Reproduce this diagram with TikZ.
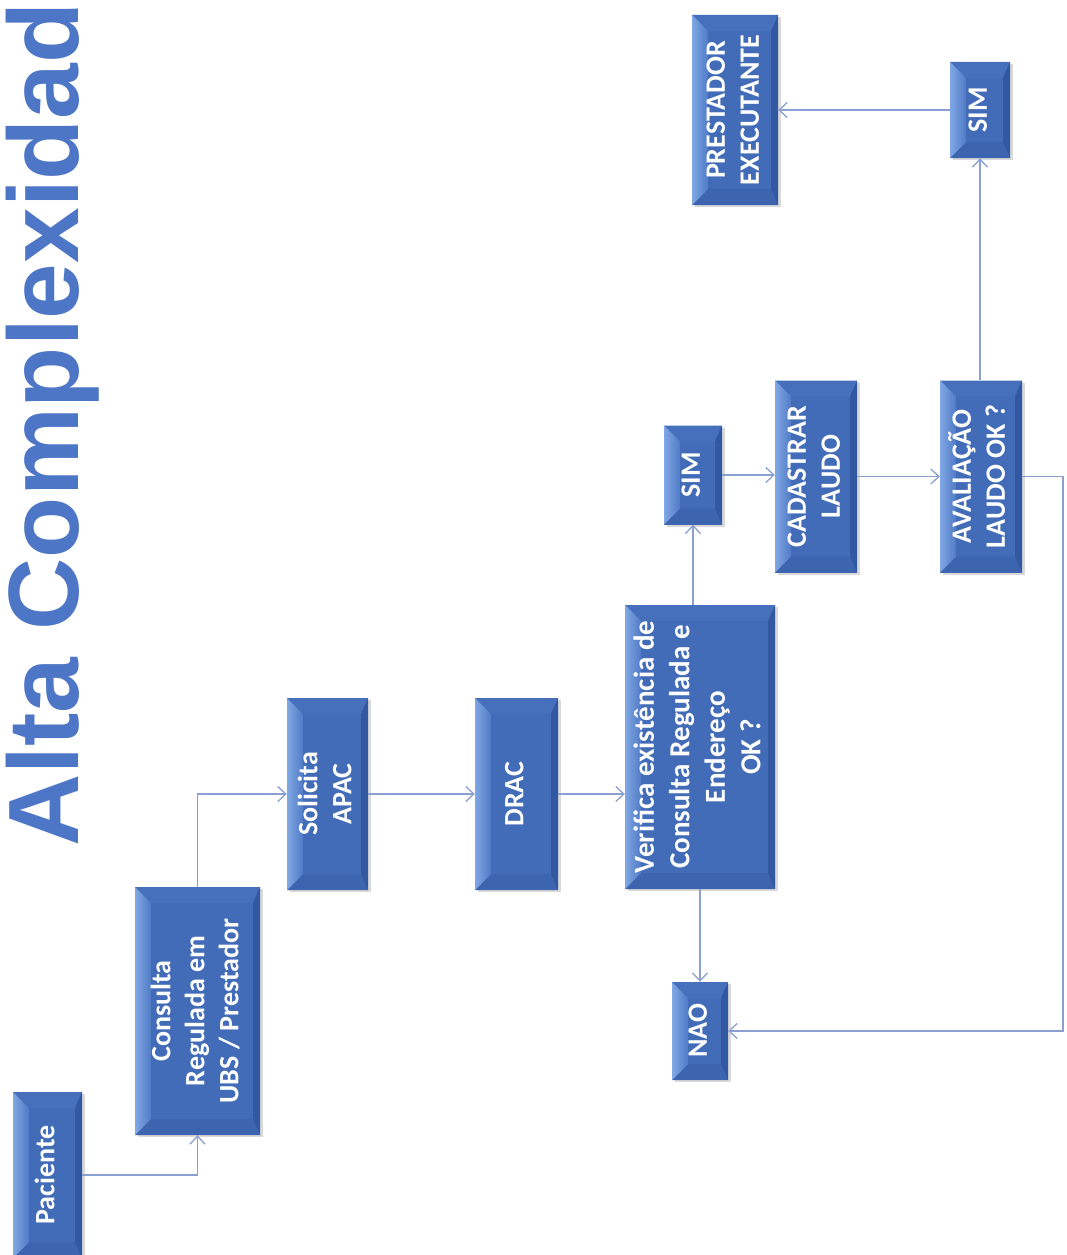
\documentclass[tikz,border=0pt]{standalone}
\usepackage{fontspec}
\usepackage{graphicx}
\setmainfont{Carlito}
\newfontfamily\titlefont{Liberation Sans}
\usetikzlibrary{arrows.meta,calc,shadows}

\definecolor{boxbody}{RGB}{66,108,184}
\definecolor{bvlight}{RGB}{128,168,228}
\definecolor{bvlightb}{RGB}{80,122,198}
\definecolor{bvtop}{RGB}{70,112,188}
\definecolor{bvbot}{RGB}{60,100,175}
\definecolor{bvright}{RGB}{50,88,162}
\definecolor{connc}{RGB}{138,160,210}
\definecolor{titleblue}{RGB}{78,118,198}

\newlength\bvl
\setlength\bvl{16pt}
\newlength\bvr
\setlength\bvr{7pt}
\newcommand\bevfaces{%
  \fill[bvtop]
    (path picture bounding box.north west) -- (path picture bounding box.north east)
    -- ([xshift=-\bvr,yshift=-\bvl]path picture bounding box.north east)
    -- ([xshift=\bvl,yshift=-\bvl]path picture bounding box.north west) -- cycle;
  \fill[bvbot]
    (path picture bounding box.south west) -- (path picture bounding box.south east)
    -- ([xshift=-\bvr,yshift=\bvl]path picture bounding box.south east)
    -- ([xshift=\bvl,yshift=\bvl]path picture bounding box.south west) -- cycle;
  \fill[bvright]
    (path picture bounding box.north east) -- (path picture bounding box.south east)
    -- ([xshift=-\bvr,yshift=\bvl]path picture bounding box.south east)
    -- ([xshift=-\bvr,yshift=-\bvl]path picture bounding box.north east) -- cycle;
  \shade[left color=bvlight, right color=bvlightb]
    (path picture bounding box.north west) -- (path picture bounding box.south west)
    -- ([xshift=\bvl,yshift=\bvl]path picture bounding box.south west)
    -- ([xshift=\bvl,yshift=-\bvl]path picture bounding box.north west) -- cycle;
}

\tikzset{
  bevbox/.style={fill=boxbody, inner sep=0pt, text=white,
    font={\bfseries\fontsize{28}{34}\selectfont},
    path picture={\bevfaces},
    drop shadow={opacity=0.15, shadow xshift=3pt, shadow yshift=-2pt, fill=black}},
  conn/.style={draw=connc, line width=1.3pt,
    -{Straight Barb[length=8pt,width=15pt]}},
}

\newcommand\rtext[1]{\rotatebox{90}{\begin{tabular}{@{}c@{}}#1\end{tabular}}}

\begin{document}
\begin{tikzpicture}[x=1pt,y=-1pt]
\path[use as bounding box] (0,0) rectangle (1066,1255);
\fill[white] (0,0) rectangle (1066,1255);
\clip (0,0) rectangle (1066,1255);

% title
\node[rotate=90, anchor=base west, inner sep=0pt, text=titleblue,
  font={\titlefont\bfseries\fontsize{100}{110}\selectfont}] (title) at (78,847) {Alta Complexidad};

% boxes
\node[bevbox, minimum width=69pt,  minimum height=166pt] (pac)   at (47.5,1175)  {\rtext{Paciente}};
\node[bevbox, minimum width=125pt, minimum height=248pt] (cons)  at (197.5,1011) {\rtext{Consulta\\Regulada em\\UBS / Prestador}};
\node[bevbox, minimum width=81pt,  minimum height=192pt] (sol)   at (327.5,794)  {\rtext{Solicita\\APAC}};
\node[bevbox, minimum width=83pt,  minimum height=192pt] (drac)  at (516.5,794)  {\rtext{DRAC}};
\node[bevbox, minimum width=150pt, minimum height=284pt,
      font={\bfseries\fontsize{29}{35.5}\selectfont}] (verif) at (700,747) {\rtext{Verifica existência de\\Consulta Regulada e\\Endereço\\OK ?}};
\node[bevbox, minimum width=56pt,  minimum height=98pt]  (nao)   at (700,1031)   {\rtext{NAO}};
\node[bevbox, minimum width=58pt,  minimum height=99pt]  (sim1)  at (693,475)    {\rtext{SIM}};
\node[bevbox, minimum width=82pt,  minimum height=192pt] (cad)   at (816,476.5)  {\rtext{CADASTRAR\\LAUDO}};
\node[bevbox, minimum width=82pt,  minimum height=192pt] (aval)  at (981,476.5)  {\rtext{AVALIAÇÃO\\LAUDO OK ?}};
\node[bevbox, minimum width=60pt,  minimum height=96pt]  (sim2)  at (980,110)    {\rtext{SIM}};
\node[bevbox, minimum width=86pt,  minimum height=190pt] (prest) at (735,110)    {\rtext{PRESTADOR\\EXECUTANTE}};

\coordinate (rt) at (1063,0);

% connectors
\draw[conn] (pac.east) -| (cons.south);
\draw[conn] (cons.north) |- (sol.west);
\draw[conn] (sol.east) -- (drac.west);
\draw[conn] (drac.east) -- (verif.west |- drac.east);
\draw[conn] (sim1.south |- verif.north) -- (sim1.south);
\draw[conn] (nao.north |- verif.south) -- (nao.north);
\draw[conn] (sim1.east) -- (cad.west |- sim1.east);
\draw[conn] (cad.east) -- (aval.west);
\draw[conn] (sim2.south |- aval.north) -- (sim2.south);
\draw[conn] (sim2.west) -- (prest.east |- sim2.west);
\draw[conn] (aval.east) -- (aval.east -| rt) |- (nao.east);
\end{tikzpicture}
\end{document}
